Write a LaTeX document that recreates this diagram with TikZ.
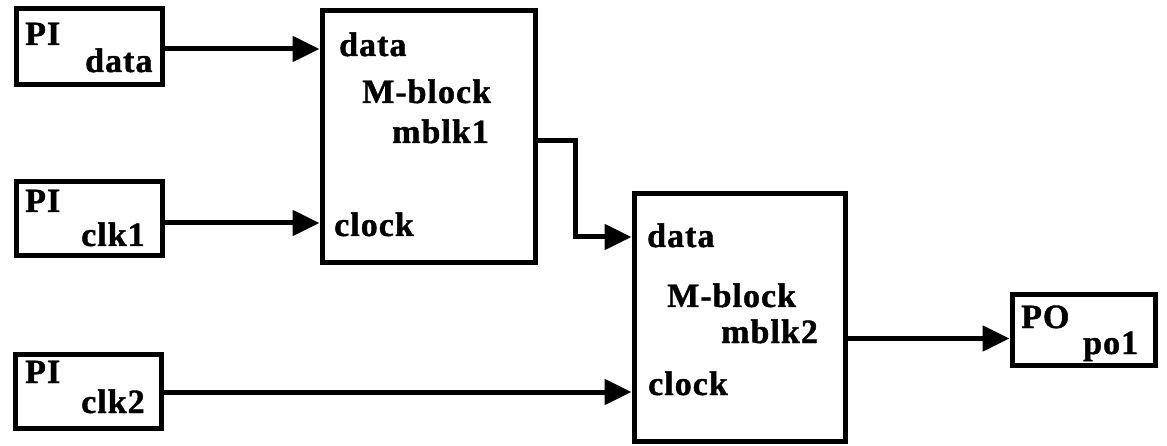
\documentclass[tikz,border=0pt]{standalone}
\usepackage{fontspec}
\setmainfont{Liberation Serif}[LetterSpace=3,BoldFeatures={FakeBold=1.2}]
\usetikzlibrary{arrows.meta}
\begin{document}
\begin{tikzpicture}[x=1pt,y=-1pt,
  blk/.style={draw,line width=5pt,inner sep=0pt,minimum width=#1},
  lbl/.style={inner sep=0pt,anchor=base west,font=\fontsize{34}{38}\selectfont\bfseries},
  wire/.style={line width=5pt,line join=miter},
  arr/.style={wire,-{Triangle[length=27pt,width=25pt]}}]
\useasboundingbox (0,0) rectangle (1167,446);
% boxes
\node[blk=146pt,minimum height=76pt] (pidata) at (89,47) {};
\node[blk=146pt,minimum height=74pt] (piclk1) at (89,219) {};
\node[blk=146pt,minimum height=74pt] (piclk2) at (88,391) {};
\node[blk=213pt,minimum height=252pt] (mblk1) at (428.5,137) {};
\node[blk=211pt,minimum height=247pt] (mblk2) at (739.5,317.5) {};
\node[blk=143pt,minimum height=70pt] (po) at (1083.5,330) {};
% labels
\node[lbl] (t1) at (25,45) {PI};
\node[lbl] (t2) at (85,72) {data};
\node[lbl] (t3) at (25,212) {PI};
\node[lbl] (t4) at (81,246) {clk1};
\node[lbl] (t5) at (25,383) {PI};
\node[lbl] (t6) at (81,413) {clk2};
\node[lbl] (t7) at (339,56) {data};
\node[lbl] (t8) at (362,103) {M-block};
\node[lbl] (t9) at (392,143) {mblk1};
\node[lbl] (t10) at (334,236) {clock};
\node[lbl] (t11) at (647,247) {data};
\node[lbl] (t12) at (667,307) {M-block};
\node[lbl] (t13) at (721,343) {mblk2};
\node[lbl] (t14) at (648,395) {clock};
\node[lbl] (t15) at (1021,328) {PO};
\node[lbl] (t16) at (1083,354) {po1};
% ports
\coordinate (p1) at ([yshift=-2pt]pidata.east);
\coordinate (p2) at ([yshift=-4pt]piclk1.east);
\coordinate (p3) at ([yshift=-1pt]piclk2.east);
\coordinate (m1o) at ([yshift=-4pt]mblk1.east);
\coordinate (m2d) at (mblk2.west |- 0,237);
\coordinate (m2o) at ([yshift=-21pt]mblk2.east);
% wires
\draw[arr] (p1) -- (p1 -| mblk1.west);
\draw[arr] (p2) -- (p2 -| mblk1.west);
\draw[arr] (p3) -- (p3 -| mblk2.west);
\draw[arr] (m1o) -- ++(38,0) |- (m2d);
\draw[arr] (m2o) -- (m2o -| po.west);
\end{tikzpicture}
\end{document}
